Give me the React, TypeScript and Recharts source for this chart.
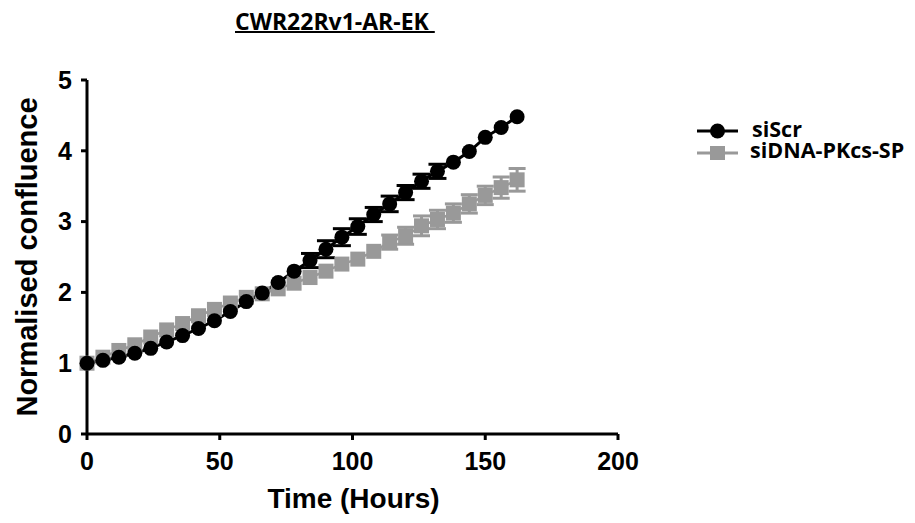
import React from 'react';
import { LineChart, Line, XAxis, YAxis, ErrorBar, Legend } from 'recharts';

const times = [0, 6, 12, 18, 24, 30, 36, 42, 48, 54, 60, 66, 72, 78, 84, 90, 96, 102, 108, 114, 120, 126, 132, 138, 144, 150, 156, 162];
const siScr = [1.0, 1.04, 1.085, 1.14, 1.21, 1.3, 1.39, 1.49, 1.6, 1.73, 1.87, 1.99, 2.14, 2.3, 2.45, 2.61, 2.78, 2.93, 3.1, 3.25, 3.41, 3.57, 3.71, 3.84, 3.99, 4.19, 4.33, 4.48];
const siScrErr = [null, null, null, null, null, null, null, null, null, null, null, null, null, null, 0.1, 0.12, 0.12, 0.11, 0.1, 0.11, 0.1, 0.1, 0.1, null, null, null, null, null];
const siDNA = [1.0, 1.085, 1.18, 1.26, 1.37, 1.47, 1.56, 1.67, 1.76, 1.85, 1.93, 1.98, 2.05, 2.13, 2.21, 2.3, 2.4, 2.47, 2.58, 2.71, 2.8, 2.94, 3.03, 3.12, 3.25, 3.37, 3.48, 3.59];
const siDNAErr = [null, null, null, null, null, null, null, null, null, null, null, null, null, null, null, null, null, null, null, 0.1, 0.12, 0.14, 0.13, 0.13, 0.13, 0.13, 0.15, 0.16];
const xTicks = [0, 50, 100, 150, 200];
const yTicks = [0, 1, 2, 3, 4, 5];
const seriesNames = ['siScr', 'siDNA-PKcs-SP'];
const titleText = 'CWR22Rv1-AR-EK';
const xLabel = 'Time (Hours)';
const yLabel = 'Normalised confluence';

const data = times.map((t, i) => ({
  time: t,
  siScr: siScr[i],
  siScrErr: siScrErr[i],
  siDNA: siDNA[i],
  siDNAErr: siDNAErr[i],
}));

const GREY = '#999999';
const ARIAL = '"Liberation Sans", Arial, sans-serif';
const HUMAN = '"Open Sans", Lato, sans-serif';

const CircleDot = (p: any) => (
  <circle key={`c${p.index}`} cx={p.cx} cy={p.cy} r={7.5} fill="#000" />
);
const SquareDot = (p: any) => (
  <rect key={`s${p.index}`} x={p.cx - 7.5} y={p.cy - 7.5} width={15} height={15} fill={GREY} />
);

const LegendContent = () => (
  <svg width={225} height={60} style={{ display: 'block', overflow: 'visible' }}>
    <line x1={7} y1={21} x2={48} y2={21} stroke="#000" strokeWidth={3} />
    <circle cx={27.5} cy={21} r={7.5} fill="#000" />
    <text x={62} y={26.5} fontFamily={HUMAN} fontWeight={700} fontSize={21.5} fill="#000">
      {seriesNames[0]}
    </text>
    <line x1={7} y1={43} x2={48} y2={43} stroke={GREY} strokeWidth={3} />
    <rect x={20} y={36} width={15} height={14} fill={GREY} />
    <text x={60} y={47.5} fontFamily={HUMAN} fontWeight={700} fontSize={21.5} fill="#000">
      {seriesNames[1]}
    </text>
  </svg>
);

const YLabelContent = (props: any) => {
  const vb = props.viewBox || {};
  const cy = vb.y + vb.height / 2;
  const x = 29;
  return (
    <text
      x={x}
      y={cy}
      transform={`rotate(-90, ${x}, ${cy})`}
      textAnchor="middle"
      fontFamily={ARIAL}
      fontWeight={700}
      fontSize={29}
      fill="#000"
    >
      {yLabel}
    </text>
  );
};

const XLabelContent = (props: any) => {
  const vb = props.viewBox || {};
  const cx = vb.x + vb.width / 2 + 1;
  return (
    <text x={cx} y={500} textAnchor="middle" fontFamily={ARIAL} fontWeight={700} fontSize={28} fill="#000">
      {xLabel}
    </text>
  );
};

export default function App() {
  return (
    <div style={{ position: 'relative', width: 907, height: 515 }}>
      <div
        style={{
          position: 'absolute',
          left: 227,
          top: -2,
          fontFamily: HUMAN,
          fontWeight: 700,
          fontSize: 23,
          lineHeight: '30px',
          color: '#000',
          textDecoration: 'underline',
          textDecorationThickness: '2px',
          whiteSpace: 'pre',
        }}
      >
        {titleText + '\u00a0'}
      </div>
      <LineChart width={907} height={515} data={data} margin={{ top: 72, right: 297, left: 19, bottom: 29 }}>
        <XAxis
          dataKey="time"
          type="number"
          domain={[0, 200]}
          ticks={xTicks}
          interval={0}
          height={60}
          axisLine={{ stroke: '#000', strokeWidth: 3 }}
          tickLine={{ stroke: '#000', strokeWidth: 3 }}
          tickSize={6}
          tickMargin={12}
          tick={{ fontSize: 25, fontWeight: 700, fill: '#000', fontFamily: ARIAL }}
          label={<XLabelContent />}
        />
        <YAxis
          type="number"
          domain={[0, 5]}
          ticks={yTicks}
          interval={0}
          width={60}
          axisLine={{ stroke: '#000', strokeWidth: 3 }}
          tickLine={{ stroke: '#000', strokeWidth: 3 }}
          tickSize={6}
          tickMargin={9}
          tick={{ fontSize: 25, fontWeight: 700, fill: '#000', fontFamily: ARIAL }}
          label={<YLabelContent />}
        />
        <Legend
          layout="horizontal"
          verticalAlign="middle"
          align="center"
          content={<LegendContent />}
          wrapperStyle={{ left: 682, top: 102, width: 225, height: 60 }}
        />
        <Line
          type="linear"
          dataKey="siDNA"
          stroke={GREY}
          strokeWidth={2.5}
          dot={SquareDot}
          activeDot={false}
          isAnimationActive={false}
        >
          <ErrorBar dataKey="siDNAErr" direction="y" width={8.5} stroke={GREY} strokeWidth={3} />
        </Line>
        <Line
          type="linear"
          dataKey="siScr"
          stroke="#000"
          strokeWidth={3}
          dot={CircleDot}
          activeDot={false}
          isAnimationActive={false}
        >
          <ErrorBar dataKey="siScrErr" direction="y" width={9} stroke="#000" strokeWidth={3} />
        </Line>
      </LineChart>
    </div>
  );
}
